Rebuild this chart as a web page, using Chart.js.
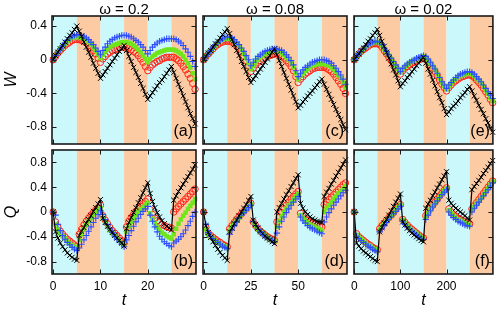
<!DOCTYPE html>
<html><head><meta charset="utf-8">
<script src="https://cdn.jsdelivr.net/npm/chart.js@4/dist/chart.umd.min.js"></script>
<style>html,body{margin:0;padding:0;background:#fff;}#wrap{position:relative;width:498px;height:310px;overflow:hidden;}canvas{position:absolute;left:0;top:0;}</style>
</head><body><div id="wrap"></div>
<script>
// ---------- categories (time samples) ----------
const tA = [0,0.5,1,1.5,2,2.5,3,3.5,4,4.5,5,5.5,6,6.5,7,7.5,8,8.5,9,9.5,10,10.5,11,11.5,12,12.5,13,13.5,14,14.5,15,15.5,16,16.5,17,17.5,18,18.5,19,19.5,20,20.5,21,21.5,22,22.5,23,23.5,24,24.5,25,25.5,26,26.5,27,27.5,28,28.5,29,29.5,30];
const tC = [0,1.25,2.5,3.75,5,6.25,7.5,8.75,10,11.25,12.5,13.75,15,16.25,17.5,18.75,20,21.25,22.5,23.75,25,26.25,27.5,28.75,30,31.25,32.5,33.75,35,36.25,37.5,38.75,40,41.25,42.5,43.75,45,46.25,47.5,48.75,50,51.25,52.5,53.75,55,56.25,57.5,58.75,60,61.25,62.5,63.75,65,66.25,67.5,68.75,70,71.25,72.5,73.75,75];
const tE = [0,5,10,15,20,25,30,35,40,45,50,55,60,65,70,75,80,85,90,95,100,105,110,115,120,125,130,135,140,145,150,155,160,165,170,175,180,185,190,195,200,205,210,215,220,225,230,235,240,245,250,255,260,265,270,275,280,285,290,295,300];

// ---------- band edges ----------
const bandsA = [0,5,10,15,20,25,30];
const bandsC = [0,12.5,25,37.5,50,62.5,75];
const bandsE = [0,50,100,150,200,250,300];

// ---------- tick values / labels ----------
const xTicksA = [0,10,20];   const xLabelsA = ['0','10','20'];
const xTicksC = [0,25,50];   const xLabelsC = ['0','25','50'];
const xTicksE = [0,100,200]; const xLabelsE = ['0','100','200'];
const yTicksW = [-0.8,-0.4,0,0.4];      const yLabelsW = ['-0.8','-0.4','0','0.4'];
const yTicksQ = [-0.8,-0.4,0,0.4,0.8];  const yLabelsQ = ['-0.8','-0.4','0','0.4','0.8'];

// ---------- panel (a) W, omega = 0.2 ----------
const wBlackA = [0,0.05,0.09,0.13,0.17,0.21,0.25,0.29,0.32,0.36,0.40, 0.34,0.28,0.21,0.15,0.09,0.03,-0.04,-0.10,-0.16,-0.22, -0.18,-0.14,-0.10,-0.06,-0.02,0.02,0.06,0.10,0.13,0.17, 0.11,0.04,-0.02,-0.09,-0.15,-0.21,-0.28,-0.34,-0.41,-0.47, -0.43,-0.39,-0.35,-0.31,-0.27,-0.24,-0.20,-0.16,-0.12,-0.08, -0.15,-0.22,-0.29,-0.36,-0.43,-0.50,-0.57,-0.64,-0.70,-0.76];
const wBlueA = [0,0.05,0.09,0.13,0.17,0.20,0.23,0.26,0.28,0.29,0.30, 0.30,0.29,0.28,0.26,0.24,0.21,0.18,0.14,0.10,0.06, 0.11,0.15,0.19,0.22,0.24,0.26,0.27,0.28,0.29,0.29, 0.29,0.28,0.27,0.25,0.23,0.21,0.18,0.15,0.11,0.07, 0.11,0.15,0.18,0.20,0.22,0.23,0.24,0.25,0.25,0.25, 0.25,0.24,0.22,0.20,0.17,0.13,0.09,0.04,-0.02,-0.08];
const wGreenA = [0,0.05,0.09,0.13,0.16,0.19,0.22,0.24,0.26,0.27,0.27, 0.27,0.26,0.25,0.23,0.21,0.18,0.14,0.11,0.07,0.02, 0.06,0.10,0.13,0.15,0.17,0.18,0.19,0.20,0.21,0.21, 0.21,0.20,0.19,0.17,0.15,0.12,0.09,0.05,0.01,-0.03, 0.01,0.04,0.06,0.08,0.09,0.10,0.11,0.12,0.12,0.12, 0.12,0.11,0.09,0.07,0.04,0.00,-0.04,-0.09,-0.16,-0.23];
const wRedA = [0,0.04,0.08,0.11,0.14,0.17,0.19,0.21,0.23,0.24,0.24, 0.24,0.23,0.22,0.20,0.17,0.14,0.11,0.07,0.02,-0.03, 0.01,0.04,0.07,0.09,0.11,0.12,0.13,0.14,0.15,0.15, 0.15,0.14,0.12,0.10,0.08,0.05,0.01,-0.03,-0.08,-0.13, -0.09,-0.06,-0.04,-0.02,-0.01,0.01,0.02,0.03,0.03,0.03, 0.03,0.01,-0.01,-0.04,-0.08,-0.12,-0.17,-0.22,-0.28,-0.35];

// ---------- panel (b) Q, omega = 0.2 ----------
const qBlackB = [0,-0.32,-0.42,-0.50,-0.56,-0.61,-0.66,-0.70,-0.73,-0.76,-0.78, -0.38,-0.31,-0.25,-0.18,-0.12,-0.06,0.01,0.07,0.13,0.20, -0.10,-0.17,-0.23,-0.28,-0.33,-0.38,-0.42,-0.46,-0.50,-0.55, -0.27,-0.17,-0.09,-0.01,0.07,0.15,0.23,0.31,0.39,0.47, 0.30,0.17,0.07,-0.01,-0.08,-0.14,-0.19,-0.23,-0.26,-0.29, 0.19,0.26,0.33,0.39,0.45,0.51,0.57,0.63,0.69,0.76];
const qBlueB = [0,-0.05,-0.20,-0.30,-0.38,-0.44,-0.49,-0.53,-0.57,-0.60,-0.62, -0.58,-0.52,-0.45,-0.38,-0.31,-0.24,-0.17,-0.10,-0.04,0.02, -0.04,-0.12,-0.20,-0.27,-0.33,-0.39,-0.44,-0.48,-0.52,-0.56, -0.45,-0.38,-0.30,-0.23,-0.16,-0.10,-0.04,0.01,0.05,0.09, -0.05,-0.15,-0.24,-0.32,-0.39,-0.44,-0.48,-0.51,-0.54,-0.56, -0.50,-0.47,-0.44,-0.40,-0.35,-0.29,-0.22,-0.15,-0.07,0.00];
const qGreenB = [0,-0.20,-0.28,-0.34,-0.39,-0.43,-0.47,-0.50,-0.53,-0.56,-0.58, -0.45,-0.36,-0.28,-0.21,-0.15,-0.09,-0.04,0.00,0.03,0.06, -0.10,-0.17,-0.23,-0.29,-0.34,-0.38,-0.42,-0.46,-0.50,-0.53, -0.32,-0.23,-0.16,-0.10,-0.05,0.00,0.04,0.08,0.12,0.15, -0.02,-0.11,-0.18,-0.24,-0.29,-0.33,-0.36,-0.39,-0.41,-0.43, -0.36,-0.27,-0.19,-0.12,-0.06,-0.01,0.05,0.10,0.15,0.21];
const qRedB = [0,-0.16,-0.25,-0.31,-0.36,-0.40,-0.44,-0.47,-0.50,-0.53,-0.56, -0.36,-0.28,-0.21,-0.15,-0.10,-0.05,-0.01,0.03,0.07,0.11, -0.06,-0.13,-0.19,-0.25,-0.30,-0.34,-0.38,-0.42,-0.46,-0.50, -0.24,-0.15,-0.09,-0.04,0.01,0.05,0.09,0.13,0.17,0.21, 0.04,-0.04,-0.10,-0.14,-0.17,-0.20,-0.22,-0.24,-0.25,-0.26, 0.00,0.05,0.09,0.13,0.17,0.21,0.25,0.29,0.33,0.37];

// ---------- panel (c) W, omega = 0.08 ----------
const wBlackC = [0,0.04,0.08,0.11,0.15,0.19,0.22,0.26,0.30,0.33,0.37, 0.31,0.24,0.18,0.11,0.05,-0.02,-0.08,-0.14,-0.21,-0.27, -0.23,-0.19,-0.15,-0.11,-0.07,-0.03,0.01,0.05,0.09,0.13, 0.06,-0.01,-0.08,-0.15,-0.22,-0.29,-0.36,-0.43,-0.50,-0.57, -0.54,-0.50,-0.47,-0.43,-0.40,-0.37,-0.33,-0.30,-0.26,-0.23, -0.29,-0.35,-0.41,-0.47,-0.53,-0.59,-0.65,-0.71,-0.77,-0.83];
const wBlueC = [0,0.04,0.08,0.11,0.15,0.18,0.21,0.23,0.25,0.27,0.27, 0.27,0.26,0.24,0.21,0.18,0.14,0.10,0.05,0.00,-0.07, -0.03,0.01,0.04,0.06,0.08,0.10,0.11,0.12,0.13,0.13, 0.13,0.12,0.11,0.09,0.06,0.03,-0.01,-0.06,-0.13,-0.20, -0.16,-0.12,-0.09,-0.07,-0.05,-0.03,-0.02,-0.01,0.00,0.00, 0.00,-0.01,-0.02,-0.04,-0.07,-0.10,-0.14,-0.18,-0.23,-0.29];
const wGreenC = [0,0.04,0.08,0.11,0.14,0.17,0.20,0.22,0.24,0.25,0.25, 0.25,0.24,0.22,0.19,0.16,0.12,0.07,0.02,-0.04,-0.11, -0.07,-0.03,0.00,0.03,0.05,0.07,0.08,0.09,0.10,0.11, 0.11,0.10,0.08,0.06,0.03,0.00,-0.04,-0.09,-0.16,-0.23, -0.19,-0.16,-0.13,-0.11,-0.09,-0.07,-0.06,-0.05,-0.05,-0.05, -0.05,-0.06,-0.07,-0.09,-0.11,-0.14,-0.18,-0.22,-0.27,-0.33];
const wRedC = [0,0.04,0.07,0.10,0.13,0.16,0.18,0.20,0.21,0.22,0.22, 0.22,0.21,0.19,0.16,0.13,0.09,0.04,-0.01,-0.07,-0.14, -0.10,-0.06,-0.03,-0.01,0.01,0.03,0.04,0.05,0.06,0.07, 0.07,0.06,0.04,0.02,-0.01,-0.04,-0.08,-0.13,-0.20,-0.27, -0.23,-0.20,-0.17,-0.15,-0.13,-0.11,-0.10,-0.09,-0.09,-0.09, -0.09,-0.10,-0.12,-0.14,-0.17,-0.21,-0.25,-0.29,-0.34,-0.40];

// ---------- panel (d) Q, omega = 0.08 ----------
const qBlackD = [0,-0.22,-0.33,-0.41,-0.48,-0.54,-0.60,-0.65,-0.70,-0.74,-0.78, -0.32,-0.26,-0.19,-0.13,-0.06,0.00,0.06,0.12,0.19,0.25, -0.13,-0.20,-0.26,-0.31,-0.35,-0.39,-0.42,-0.45,-0.48,-0.51, 0.00,0.07,0.14,0.21,0.28,0.34,0.41,0.47,0.54,0.60, 0.14,0.06,0.00,-0.04,-0.08,-0.11,-0.13,-0.15,-0.16,-0.17, 0.25,0.32,0.38,0.45,0.51,0.58,0.64,0.71,0.77,0.84];
const qBlueD = [0,-0.20,-0.33,-0.39,-0.43,-0.46,-0.49,-0.52,-0.55,-0.57,-0.59, -0.36,-0.29,-0.22,-0.16,-0.10,-0.05,-0.01,0.03,0.07,0.11, -0.15,-0.22,-0.28,-0.32,-0.36,-0.39,-0.42,-0.44,-0.46,-0.48, -0.34,-0.24,-0.15,-0.08,-0.01,0.05,0.11,0.16,0.21,0.25, -0.08,-0.14,-0.18,-0.22,-0.25,-0.27,-0.29,-0.31,-0.33,-0.35, -0.16,-0.08,-0.01,0.05,0.11,0.16,0.21,0.26,0.31,0.35];
const qGreenD = [0,-0.28,-0.36,-0.40,-0.43,-0.46,-0.49,-0.51,-0.54,-0.56,-0.58, -0.30,-0.24,-0.19,-0.14,-0.09,-0.04,0.00,0.04,0.08,0.12, -0.17,-0.23,-0.28,-0.32,-0.35,-0.38,-0.41,-0.43,-0.45,-0.47, -0.24,-0.15,-0.07,-0.01,0.05,0.11,0.16,0.21,0.25,0.29, -0.05,-0.10,-0.14,-0.17,-0.20,-0.22,-0.24,-0.26,-0.28,-0.30, 0.00,0.06,0.11,0.16,0.21,0.25,0.30,0.34,0.38,0.42];
const qRedD = [0,-0.25,-0.34,-0.38,-0.41,-0.44,-0.47,-0.49,-0.52,-0.54,-0.56, -0.27,-0.22,-0.17,-0.12,-0.07,-0.03,0.01,0.05,0.10,0.14, -0.16,-0.22,-0.27,-0.31,-0.34,-0.37,-0.40,-0.42,-0.44,-0.46, -0.16,-0.08,-0.01,0.05,0.11,0.16,0.21,0.25,0.29,0.33, -0.02,-0.07,-0.11,-0.14,-0.16,-0.18,-0.20,-0.22,-0.23,-0.24, 0.12,0.16,0.20,0.24,0.28,0.32,0.36,0.40,0.44,0.47];

// ---------- panel (e) W, omega = 0.02 ----------
const wBlackE = [0,0.04,0.07,0.11,0.14,0.18,0.22,0.25,0.29,0.32,0.36, 0.29,0.22,0.16,0.09,0.02,-0.05,-0.12,-0.18,-0.25,-0.32, -0.28,-0.25,-0.21,-0.18,-0.14,-0.11,-0.07,-0.04,0.00,0.03, -0.04,-0.11,-0.17,-0.24,-0.31,-0.38,-0.45,-0.51,-0.58,-0.65, -0.62,-0.58,-0.55,-0.52,-0.49,-0.45,-0.42,-0.39,-0.35,-0.32, -0.37,-0.43,-0.48,-0.54,-0.59,-0.64,-0.70,-0.75,-0.81,-0.86];
const wBlueE = [0,0.04,0.07,0.10,0.13,0.16,0.18,0.20,0.21,0.22,0.22, 0.21,0.18,0.14,0.10,0.06,0.02,-0.02,-0.06,-0.10,-0.14, -0.10,-0.07,-0.05,-0.03,-0.01,0.00,0.02,0.03,0.04,0.05, 0.04,0.01,-0.03,-0.07,-0.11,-0.16,-0.21,-0.26,-0.30,-0.34, -0.30,-0.27,-0.24,-0.21,-0.19,-0.17,-0.16,-0.15,-0.14,-0.14, -0.15,-0.17,-0.20,-0.23,-0.26,-0.30,-0.34,-0.38,-0.42,-0.46];
const wGreenE = [0,0.04,0.07,0.10,0.13,0.15,0.17,0.19,0.20,0.21,0.21, 0.20,0.17,0.13,0.09,0.05,0.01,-0.03,-0.07,-0.11,-0.15, -0.11,-0.08,-0.06,-0.04,-0.02,-0.01,0.01,0.02,0.03,0.04, 0.03,0.00,-0.04,-0.08,-0.12,-0.17,-0.22,-0.27,-0.31,-0.35, -0.31,-0.28,-0.25,-0.23,-0.21,-0.19,-0.18,-0.17,-0.16,-0.16, -0.17,-0.19,-0.22,-0.25,-0.28,-0.32,-0.36,-0.40,-0.45,-0.49];
const wRedE = [0,0.04,0.07,0.10,0.12,0.14,0.16,0.18,0.19,0.19,0.19, 0.18,0.15,0.11,0.07,0.03,-0.01,-0.05,-0.09,-0.13,-0.17, -0.13,-0.10,-0.08,-0.06,-0.04,-0.03,-0.01,0.00,0.01,0.02, 0.01,-0.02,-0.06,-0.10,-0.14,-0.19,-0.24,-0.29,-0.33,-0.37, -0.33,-0.30,-0.27,-0.25,-0.23,-0.21,-0.20,-0.19,-0.18,-0.18, -0.19,-0.21,-0.24,-0.27,-0.30,-0.34,-0.38,-0.42,-0.47,-0.51];

// ---------- panel (f) Q, omega = 0.02 ----------
const qBlackF = [0,-0.50,-0.55,-0.59,-0.63,-0.66,-0.69,-0.72,-0.75,-0.78,-0.80, -0.32,-0.25,-0.18,-0.12,-0.05,0.02,0.09,0.16,0.22,0.29, -0.16,-0.21,-0.26,-0.30,-0.34,-0.37,-0.40,-0.43,-0.46,-0.48, 0.06,0.13,0.19,0.26,0.32,0.39,0.45,0.52,0.58,0.65, 0.19,0.14,0.10,0.06,0.03,0.00,-0.03,-0.06,-0.10,-0.13, 0.36,0.41,0.46,0.51,0.56,0.62,0.67,0.72,0.78,0.83];
const qBlueF = [0,-0.39,-0.43,-0.46,-0.49,-0.52,-0.55,-0.57,-0.60,-0.62,-0.64, -0.32,-0.27,-0.22,-0.17,-0.12,-0.08,-0.03,0.01,0.05,0.09, -0.15,-0.20,-0.24,-0.28,-0.31,-0.34,-0.37,-0.40,-0.42,-0.44, -0.12,-0.05,0.02,0.08,0.13,0.18,0.23,0.28,0.32,0.36, 0.00,-0.05,-0.09,-0.12,-0.15,-0.17,-0.19,-0.21,-0.22,-0.23, 0.00,0.06,0.11,0.16,0.21,0.26,0.31,0.36,0.42,0.47];
const qGreenF = [0,-0.37,-0.41,-0.44,-0.47,-0.50,-0.53,-0.55,-0.58,-0.60,-0.62, -0.29,-0.24,-0.19,-0.15,-0.10,-0.06,-0.02,0.03,0.07,0.11, -0.13,-0.18,-0.22,-0.26,-0.29,-0.32,-0.35,-0.38,-0.41,-0.43, -0.08,-0.02,0.04,0.10,0.15,0.20,0.25,0.29,0.34,0.38, 0.03,-0.02,-0.06,-0.09,-0.12,-0.14,-0.16,-0.18,-0.20,-0.21, 0.03,0.08,0.13,0.18,0.23,0.28,0.33,0.38,0.44,0.49];
const qRedF = [0,-0.35,-0.40,-0.43,-0.46,-0.49,-0.52,-0.54,-0.57,-0.59,-0.61, -0.27,-0.22,-0.18,-0.13,-0.09,-0.05,-0.01,0.04,0.08,0.12, -0.12,-0.17,-0.21,-0.25,-0.28,-0.31,-0.34,-0.37,-0.40,-0.42, -0.06,0.00,0.06,0.11,0.16,0.21,0.26,0.30,0.35,0.39, 0.05,0.00,-0.04,-0.07,-0.10,-0.12,-0.14,-0.16,-0.18,-0.19, 0.05,0.10,0.15,0.20,0.25,0.30,0.35,0.40,0.45,0.50];

// ---------- drawing ----------
const FONT = "'Liberation Sans', Arial, Helvetica, sans-serif";
const CYAN = '#cbf8fb', ORANGE = '#fccba3';
const Y_AXIS_W = 40, X_AXIS_H = 24;
const wrap = document.getElementById('wrap');

function makePanel(p) {
  const cv = document.createElement('canvas');
  cv.width = 498; cv.height = 310;
  cv.style.width = '498px'; cv.style.height = '310px';
  wrap.appendChild(cv);
  const pts = arr => p.t.map((t, i) => ({x: t, y: arr[i]}));
  const decor = {
    id: 'decor' + p.id,
    beforeDatasetsDraw(chart) {
      const {ctx, chartArea: a, scales: {x}} = chart;
      ctx.save();
      const n = p.bands.length - 1;
      for (let k = 0; k < n; k++) {
        const x0 = k === 0 ? a.left : x.getPixelForValue(p.bands[k]);
        const x1 = k === n - 1 ? a.right : x.getPixelForValue(p.bands[k + 1]);
        ctx.fillStyle = k % 2 === 0 ? CYAN : ORANGE;
        ctx.fillRect(x0, a.top, x1 - x0, a.bottom - a.top);
      }
      ctx.restore();
    },
    afterDatasetsDraw(chart) {
      const {ctx, chartArea: a, scales: {x, y}} = chart;
      ctx.save();
      ctx.strokeStyle = '#1a1a1a';
      ctx.lineWidth = 1;
      const L = 4.5;
      ctx.beginPath();
      p.xTicks.forEach(v => {
        const px = Math.round(x.getPixelForValue(v)) + 0.5;
        ctx.moveTo(px, a.bottom); ctx.lineTo(px, a.bottom - L);
        ctx.moveTo(px, a.top); ctx.lineTo(px, a.top + L);
      });
      p.yTicks.forEach(v => {
        const py = Math.round(y.getPixelForValue(v)) + 0.5;
        ctx.moveTo(a.left, py); ctx.lineTo(a.left + L, py);
        ctx.moveTo(a.right, py); ctx.lineTo(a.right - L, py);
      });
      ctx.stroke();
      ctx.lineWidth = 1.6;
      ctx.strokeRect(a.left, a.top, a.right - a.left, a.bottom - a.top);
      ctx.fillStyle = '#000';
      ctx.font = '16px ' + FONT;
      ctx.textAlign = 'right';
      ctx.textBaseline = 'alphabetic';
      ctx.fillText(p.label, a.right - 3, a.bottom - 8);
      ctx.restore();
    },
    afterDraw(chart) {
      const {ctx, chartArea: a} = chart;
      ctx.save();
      ctx.fillStyle = '#000';
      if (p.title) {
        ctx.font = '15px ' + FONT;
        ctx.textAlign = 'center'; ctx.textBaseline = 'middle';
        ctx.fillText(p.title, (a.left + a.right) / 2, 10);
      }
      if (p.xTitle) {
        ctx.font = 'italic 16px ' + FONT;
        ctx.textAlign = 'center'; ctx.textBaseline = 'middle';
        ctx.fillText(p.xTitle, (a.left + a.right) / 2, 301);
      }
      if (p.yTitle) {
        ctx.font = 'italic 16px ' + FONT;
        ctx.textAlign = 'center'; ctx.textBaseline = 'middle';
        ctx.translate(12, (a.top + a.bottom) / 2);
        ctx.rotate(-Math.PI / 2);
        ctx.fillText(p.yTitle, 0, 0);
      }
      ctx.restore();
    }
  };
  new Chart(cv, {
    type: 'scatter',
    data: {datasets: [
      {data: pts(p.black), showLine: true, borderColor: '#000', borderWidth: 1.2, pointStyle: 'crossRot', pointRadius: 3.6, pointBorderWidth: 1, pointBorderColor: '#000', pointBackgroundColor: '#000', clip: 6},
      {data: pts(p.blue), showLine: false, pointStyle: 'cross', pointRadius: 3.2, pointBorderWidth: 1.1, pointBorderColor: '#2d4cff', pointBackgroundColor: '#2d4cff', clip: 6},
      {data: pts(p.green), showLine: false, pointStyle: 'rect', pointRadius: 3.2, pointBorderWidth: 0, pointBorderColor: '#6fe61c', pointBackgroundColor: '#6fe61c', clip: 6},
      {data: pts(p.red), showLine: false, pointStyle: 'circle', pointRadius: 3.2, pointBorderWidth: 1, pointBorderColor: '#ff2418', pointBackgroundColor: 'rgba(0,0,0,0)', clip: 6}
    ]},
    options: {
      responsive: false, animation: false, devicePixelRatio: 1,
      events: [],
      layout: {padding: {left: p.area.l - Y_AXIS_W, top: p.area.t, right: 498 - p.area.r, bottom: 310 - p.area.b - X_AXIS_H}},
      plugins: {legend: {display: false}, tooltip: {enabled: false}, title: {display: false}},
      scales: {
        x: {
          type: 'linear', position: 'bottom', min: p.xMin, max: p.xMax,
          afterBuildTicks: s => { s.ticks = p.xTicks.map(v => ({value: v})); },
          afterFit: s => { s.height = X_AXIS_H; },
          grid: {display: false, drawTicks: false}, border: {display: false},
          ticks: {display: p.showX, autoSkip: false, maxRotation: 0, padding: 5, color: '#000', font: {family: FONT, size: 12},
                  callback: (v, i) => p.xLabels[i]}
        },
        y: {
          type: 'linear', position: 'left', min: p.yMin, max: p.yMax,
          afterBuildTicks: s => { s.ticks = p.yTicks.map(v => ({value: v})); },
          afterFit: s => { s.width = Y_AXIS_W; },
          grid: {display: false, drawTicks: false}, border: {display: false},
          ticks: {display: p.showY, autoSkip: false, padding: 5, color: '#000', font: {family: FONT, size: 12},
                  callback: (v, i) => p.yLabels[i]}
        }
      }
    },
    plugins: [decor]
  });
}

const rowTop = {t: 16, b: 144}, rowBot = {t: 150, b: 274};
const colA = {l: 52, r: 196}, colC = {l: 203, r: 347}, colE = {l: 354, r: 497};

makePanel({id: 'a', label: '(a)', title: 'ω = 0.2', yTitle: 'W', area: {...colA, ...rowTop}, t: tA, bands: bandsA, xMin: -0.25, xMax: 30.2, yMin: -1.0, yMax: 0.52,
  xTicks: xTicksA, xLabels: xLabelsA, yTicks: yTicksW, yLabels: yLabelsW, showX: false, showY: true,
  black: wBlackA, blue: wBlueA, green: wGreenA, red: wRedA});
makePanel({id: 'b', label: '(b)', xTitle: 't', yTitle: 'Q', area: {...colA, ...rowBot}, t: tA, bands: bandsA, xMin: -0.25, xMax: 30.2, yMin: -1.0, yMax: 1.0,
  xTicks: xTicksA, xLabels: xLabelsA, yTicks: yTicksQ, yLabels: yLabelsQ, showX: true, showY: true,
  black: qBlackB, blue: qBlueB, green: qGreenB, red: qRedB});
makePanel({id: 'c', label: '(c)', title: 'ω = 0.08', area: {...colC, ...rowTop}, t: tC, bands: bandsC, xMin: -0.3, xMax: 75.8, yMin: -1.0, yMax: 0.52,
  xTicks: xTicksC, xLabels: xLabelsC, yTicks: yTicksW, yLabels: yLabelsW, showX: false, showY: false,
  black: wBlackC, blue: wBlueC, green: wGreenC, red: wRedC});
makePanel({id: 'd', label: '(d)', xTitle: 't', area: {...colC, ...rowBot}, t: tC, bands: bandsC, xMin: -0.3, xMax: 75.8, yMin: -1.0, yMax: 1.0,
  xTicks: xTicksC, xLabels: xLabelsC, yTicks: yTicksQ, yLabels: yLabelsQ, showX: true, showY: false,
  black: qBlackD, blue: qBlueD, green: qGreenD, red: qRedD});
makePanel({id: 'e', label: '(e)', title: 'ω = 0.02', area: {...colE, ...rowTop}, t: tE, bands: bandsE, xMin: -0.5, xMax: 300.5, yMin: -1.0, yMax: 0.52,
  xTicks: xTicksE, xLabels: xLabelsE, yTicks: yTicksW, yLabels: yLabelsW, showX: false, showY: false,
  black: wBlackE, blue: wBlueE, green: wGreenE, red: wRedE});
makePanel({id: 'f', label: '(f)', xTitle: 't', area: {...colE, ...rowBot}, t: tE, bands: bandsE, xMin: -0.5, xMax: 300.5, yMin: -1.0, yMax: 1.0,
  xTicks: xTicksE, xLabels: xLabelsE, yTicks: yTicksQ, yLabels: yLabelsQ, showX: true, showY: false,
  black: qBlackF, blue: qBlueF, green: qGreenF, red: qRedF});
</script>
</body></html>
